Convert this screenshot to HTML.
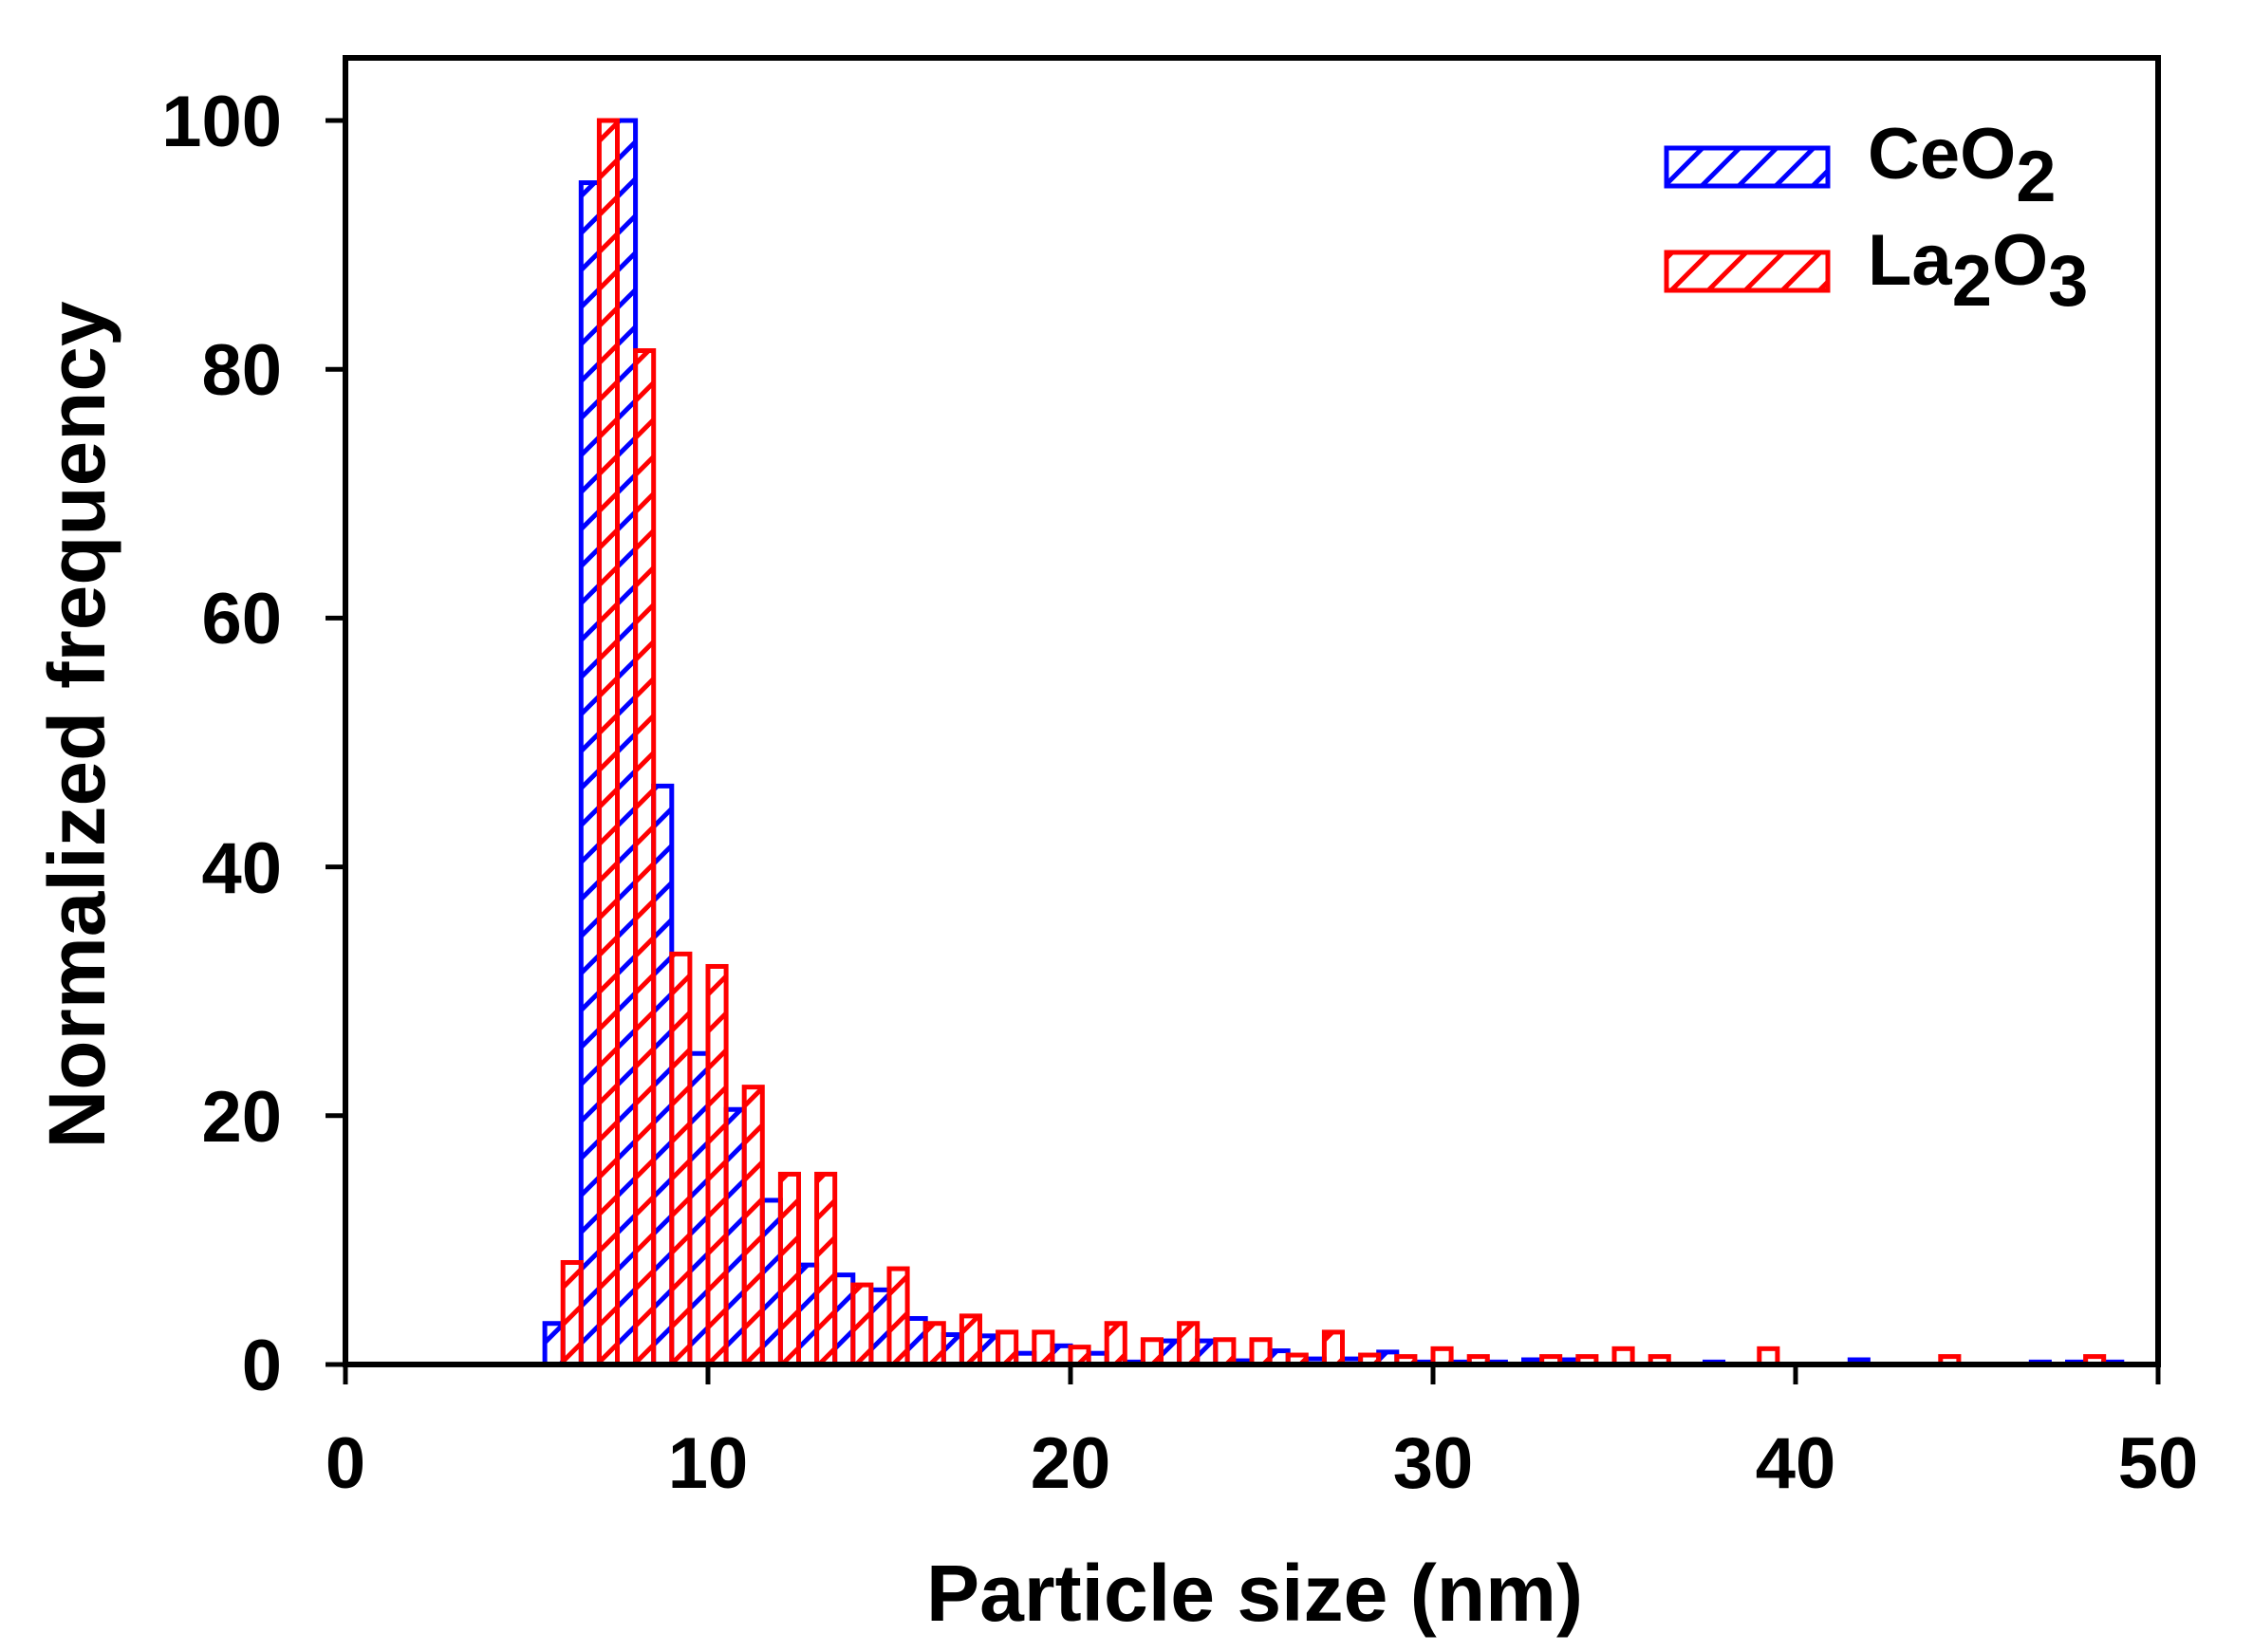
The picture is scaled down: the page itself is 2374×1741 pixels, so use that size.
<!DOCTYPE html>
<html><head><meta charset="utf-8"><style>html,body{margin:0;padding:0;background:#fff}svg{display:block}</style></head>
<body>
<svg id="s" width="2374" height="1741" viewBox="0 0 2374 1741" xmlns="http://www.w3.org/2000/svg" font-family="'Liberation Sans', Arial, sans-serif" font-weight="bold">
<defs>
<pattern id="hb" patternUnits="userSpaceOnUse" width="39" height="39">
<line x1="-5" y1="44" x2="44" y2="-5" stroke="#0000ff" stroke-width="5"/>
<line x1="-5" y1="5" x2="5" y2="-5" stroke="#0000ff" stroke-width="5"/>
<line x1="34" y1="44" x2="44" y2="34" stroke="#0000ff" stroke-width="5"/>
</pattern>
<pattern id="hr" patternUnits="userSpaceOnUse" width="39" height="39">
<line x1="-5" y1="44" x2="44" y2="-5" stroke="#ff0000" stroke-width="5"/>
<line x1="-5" y1="5" x2="5" y2="-5" stroke="#ff0000" stroke-width="5"/>
<line x1="34" y1="44" x2="44" y2="34" stroke="#ff0000" stroke-width="5"/>
</pattern>
</defs>
<g id="bars"></g>
<rect x="364" y="61" width="1910" height="1377" fill="none" stroke="#000" stroke-width="6"/>
<g stroke="#000" stroke-width="5">
<line x1="343" y1="1438" x2="364" y2="1438"/>
<line x1="343" y1="1175.8" x2="364" y2="1175.8"/>
<line x1="343" y1="913.6" x2="364" y2="913.6"/>
<line x1="343" y1="651.4" x2="364" y2="651.4"/>
<line x1="343" y1="389.2" x2="364" y2="389.2"/>
<line x1="343" y1="127" x2="364" y2="127"/>
<line x1="364" y1="1438" x2="364" y2="1459"/>
<line x1="746" y1="1438" x2="746" y2="1459"/>
<line x1="1128" y1="1438" x2="1128" y2="1459"/>
<line x1="1510" y1="1438" x2="1510" y2="1459"/>
<line x1="1892" y1="1438" x2="1892" y2="1459"/>
<line x1="2274" y1="1438" x2="2274" y2="1459"/>
</g>
<g font-size="76" text-anchor="end" fill="#000">
<text x="297" y="1465">0</text>
<text x="297" y="1203">20</text>
<text x="297" y="941">40</text>
<text x="297" y="678">60</text>
<text x="297" y="416">80</text>
<text x="297" y="154">100</text>
</g>
<g font-size="76" text-anchor="middle" fill="#000">
<text x="364" y="1568">0</text>
<text x="746" y="1568">10</text>
<text x="1128" y="1568">20</text>
<text x="1510" y="1568">30</text>
<text x="1892" y="1568">40</text>
<text x="2274" y="1568">50</text>
</g>
<text x="1322" y="1708" font-size="84" text-anchor="middle" textLength="692" lengthAdjust="spacingAndGlyphs">Particle size (nm)</text>
<text transform="translate(110,764) rotate(-90)" font-size="84" text-anchor="middle" textLength="893" lengthAdjust="spacingAndGlyphs">Normalized frequency</text>
<rect x="1756" y="156" width="170" height="40" fill="url(#hb)" stroke="#0000ff" stroke-width="5"/>
<rect x="1756" y="266" width="170" height="40" fill="url(#hr)" stroke="#ff0000" stroke-width="5"/>
<text x="1968" y="188" font-size="76">CeO<tspan dy="24">2</tspan></text>
<text x="1968" y="300" font-size="76">La<tspan dy="22">2</tspan><tspan dy="-22">O</tspan><tspan dy="22">3</tspan></text>
<script>
(function(){
var X=function(v){return 364+38.2*v;};
var Y=function(v){return 1438-13.11*v;};
var blue={6:3.3,7:95,8:100,9:46.5,10:25,11:20.5,12:13.2,13:8,14:7.2,15:6,16:3.7,17:2.4,18:2.3,19:0.9,20:1.5,21:0.9,22:0.2,23:1.9,24:1.9,25:0.3,26:1.1,27:0.45,28:0.45,29:1.0,30:0.2,31:0.2,32:0.2,33:0.38,34:0.38,38:0.2,42:0.38,47:0.2,48:0.2,49:0.2};
var red={6:8.2,7:100,8:81.5,9:33,10:32,11:22.3,12:15.3,13:15.3,14:6.4,15:7.7,16:3.3,17:3.9,18:2.6,19:2.6,20:1.4,21:3.3,22:2.0,23:3.3,24:2.0,25:2.0,26:0.76,27:2.6,28:0.76,29:0.64,30:1.27,31:0.64,33:0.64,34:0.64,35:1.27,36:0.64,39:1.27,44:0.64,48:0.64};
var g=document.getElementById('bars'),ns='http://www.w3.org/2000/svg';
function bar(x0,x1,v,pat,col){var r=document.createElementNS(ns,'rect');var y=Y(v);
r.setAttribute('x',X(x0));r.setAttribute('y',y);r.setAttribute('width',X(x1)-X(x0));r.setAttribute('height',Math.max(1438-y,0.5));
r.setAttribute('fill','url(#'+pat+')');r.setAttribute('stroke',col);r.setAttribute('stroke-width','5');g.appendChild(r);}
for(var n in blue){bar(+n-0.5,+n,blue[n],'hb','#0000ff');}
for(var n in red){bar(+n,+n+0.5,red[n],'hr','#ff0000');}
})();
</script>
</svg>
</body></html>
